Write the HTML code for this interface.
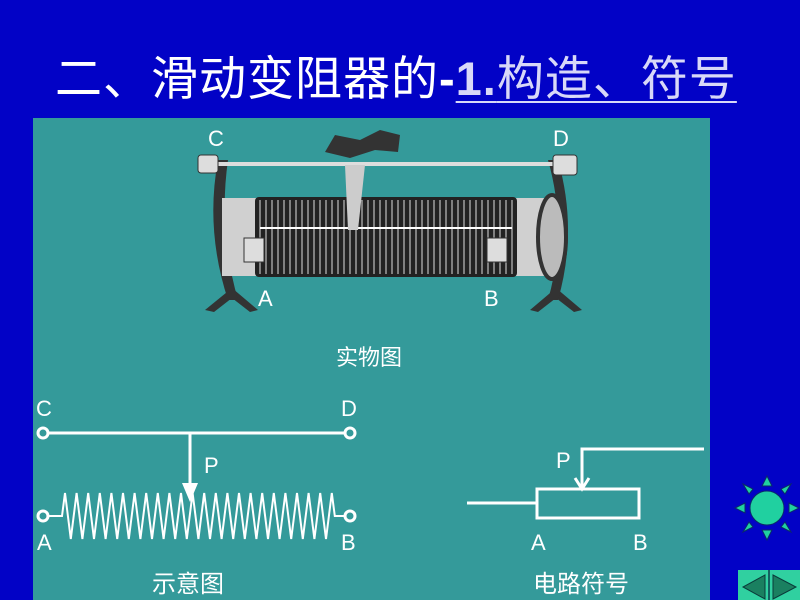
<!DOCTYPE html>
<html><head><meta charset="utf-8"><style>
body{margin:0;width:800px;height:600px;background:#0202c6;overflow:hidden;position:relative;font-family:"Liberation Sans","Noto Sans CJK SC",sans-serif}
.t{position:absolute;left:55px;top:40px;font-size:47px;color:#fff;white-space:nowrap;font-family:"Liberation Sans","Noto Sans CJK SC",sans-serif;letter-spacing:1px}
.t u{color:#d8d8f8;text-decoration-thickness:2px;text-underline-offset:6px}
.p{position:absolute;left:33px;top:118px;width:677px;height:482px;background:#349a9a}
</style></head><body>
<div class="t">二、滑动变阻器的<b style="font-family:'Liberation Sans'">-</b><u><b style="font-family:'Liberation Sans'">1.</b>构造、符号</u></div>
<div class="p"></div>
<svg width="800" height="600" style="position:absolute;left:0;top:0" font-family="Liberation Sans, Noto Sans CJK SC, sans-serif" fill="#fff">
<g>
<path d="M205 310 L232 288 L258 310 L250 312 L232 298 L214 312Z" fill="#333"/>
<path d="M530 310 L556 288 L582 310 L574 312 L556 298 L538 312Z" fill="#333"/>
<path d="M218 160 Q205 230 228 300 L238 300 Q218 230 228 160Z" fill="#333"/>
<path d="M548 160 Q568 230 548 300 L558 300 Q578 230 558 160Z" fill="#333"/>
<rect x="222" y="198" width="330" height="78" fill="#d0d0d0"/>
<ellipse cx="552" cy="237" rx="14" ry="42" fill="#bbb" stroke="#333" stroke-width="4"/>
<rect x="255" y="197" width="262" height="80" rx="4" fill="#222"/>
<g stroke="#ddd" stroke-width="1">
<path d="M260 200 V274 M266 200 V274 M272 200 V274 M278 200 V274 M284 200 V274 M290 200 V274 M296 200 V274 M302 200 V274 M308 200 V274 M314 200 V274 M320 200 V274 M326 200 V274 M332 200 V274 M338 200 V274 M344 200 V274 M350 200 V274 M356 200 V274 M362 200 V274 M368 200 V274 M374 200 V274 M380 200 V274 M386 200 V274 M392 200 V274 M398 200 V274 M404 200 V274 M410 200 V274 M416 200 V274 M422 200 V274 M428 200 V274 M434 200 V274 M440 200 V274 M446 200 V274 M452 200 V274 M458 200 V274 M464 200 V274 M470 200 V274 M476 200 V274 M482 200 V274 M488 200 V274 M494 200 V274 M500 200 V274 M506 200 V274 M512 200 V274"/>
</g>
<line x1="260" y1="228" x2="512" y2="228" stroke="#fff" stroke-width="2"/>
<line x1="210" y1="164" x2="560" y2="164" stroke="#ddd" stroke-width="4"/>
<rect x="198" y="155" width="20" height="18" rx="3" fill="#ddd" stroke="#333"/>
<rect x="553" y="155" width="24" height="20" rx="3" fill="#ddd" stroke="#333"/>
<path d="M345 165 L365 165 L358 230 L348 230Z" fill="#ccc"/>
<path d="M325 152 L335 135 L360 140 L380 130 L400 135 L398 152 L375 150 L350 158Z" fill="#333"/>
<rect x="244" y="238" width="20" height="24" fill="#ddd" stroke="#333"/>
<rect x="487" y="238" width="20" height="24" fill="#ddd" stroke="#333"/>
</g>
<g font-size="22">
<text x="208" y="146">C</text><text x="553" y="146">D</text>
<text x="258" y="306">A</text><text x="484" y="306">B</text>
</g>
<text x="336" y="365" font-size="22">实物图</text>
<g stroke="#fff" stroke-width="3" fill="none">
<line x1="49" y1="433" x2="344" y2="433"/>
<circle cx="43" cy="433" r="5"/><circle cx="350" cy="433" r="5"/>
<line x1="190" y1="433" x2="190" y2="486"/>
<circle cx="43" cy="516" r="5"/><circle cx="350" cy="516" r="5"/>
<path stroke-width="2" d="M48 516 H62 l3 -23 l5.8 46 l5.8 -46 l5.8 46 l5.8 -46 l5.8 46 l5.8 -46 l5.8 46 l5.8 -46 l5.8 46 l5.8 -46 l5.8 46 l5.8 -46 l5.8 46 l5.8 -46 l5.8 46 l5.8 -46 l5.8 46 l5.8 -46 l5.8 46 l5.8 -46 l5.8 46 l5.8 -46 l5.8 46 l5.8 -46 l5.8 46 l5.8 -46 l5.8 46 l5.8 -46 l5.8 46 l5.8 -46 l5.8 46 l5.8 -46 l5.8 46 l5.8 -46 l5.8 46 l5.8 -46 l5.8 46 l5.8 -46 l5.8 46 l5.8 -46 l5.8 46 l5.8 -46 l5.8 46 l5.8 -46 l5.8 46 l5.8 -46 l3 23 H345"/>
</g>
<path d="M182 483 L198 483 L190 502Z" fill="#fff"/>
<g font-size="22">
<text x="36" y="416">C</text><text x="341" y="416">D</text>
<text x="204" y="473">P</text>
<text x="37" y="550">A</text><text x="341" y="550">B</text>
</g>
<text x="152" y="592" font-size="24">示意图</text>
<g stroke="#fff" stroke-width="3" fill="none">
<rect x="537" y="489" width="102" height="29"/>
<line x1="467" y1="503" x2="537" y2="503"/>
<path d="M704 449 H582 V488"/>
<path d="M575 478 L582 489 L589 478"/>
</g>
<g font-size="22">
<text x="556" y="468">P</text>
<text x="531" y="550">A</text><text x="633" y="550">B</text>
</g>
<text x="533" y="592" font-size="24">电路符号</text>
<g fill="#20d0a0" stroke="#0a2a6a" stroke-width="1">
<circle cx="767" cy="508" r="17"/>
<path d="M762 486 L767 476 L772 486Z"/><path d="M762 530 L767 540 L772 530Z"/>
<path d="M745 503 L735 508 L745 513Z"/><path d="M789 503 L799 508 L789 513Z"/>
<path d="M749 494 L743 484 L753 489Z"/><path d="M785 494 L791 484 L781 489Z"/>
<path d="M749 522 L743 532 L753 527Z"/><path d="M785 522 L791 532 L781 527Z"/>
</g>
<rect x="738" y="570" width="31" height="30" fill="#30d0a0"/>
<rect x="769" y="570" width="31" height="30" fill="#30d0a0"/>
<line x1="769" y1="570" x2="769" y2="600" stroke="#0a3a4a" stroke-width="1.5"/>
<path d="M765 575 L743 587 L765 599Z" fill="#1a8060" stroke="#0a3a3a"/>
<path d="M773 575 L796 587 L773 599Z" fill="#1a8060" stroke="#0a3a3a"/>
</svg>
</body></html>
